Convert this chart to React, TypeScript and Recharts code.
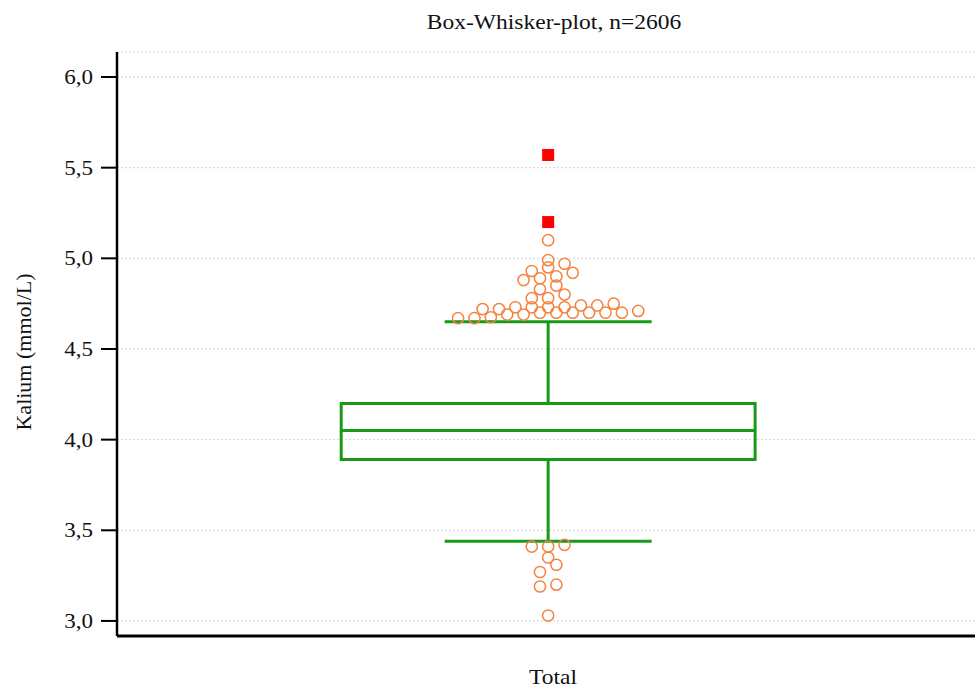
import { ComposedChart, Scatter, XAxis, YAxis, CartesianGrid, ReferenceArea, ReferenceLine } from "recharts"

const TITLE = "Box-Whisker-plot, n=2606"
const Y_LABEL = "Kalium (mmol/L)"
const CATEGORY = "Total"
const Y_TICKS = [3, 3.5, 4, 4.5, 5, 5.5, 6]

// box statistics (mmol/L)
const LOWER_WHISKER = 3.44
const Q1 = 3.89
const MEDIAN = 4.05
const Q3 = 4.2
const UPPER_WHISKER = 4.65

// outside values, with their swarm slot (left/right offset, in half-dot steps)
const OUTSIDE_VALUES = [
    5.1, 4.99, 4.95, 4.97, 4.92, 4.93, 4.88, 4.89, 4.9, 4.85, 4.83, 4.8, 4.78, 4.78,
    4.75, 4.74, 4.74, 4.73, 4.72, 4.72, 4.73, 4.73, 4.73, 4.71, 4.7, 4.7, 4.7, 4.7,
    4.7, 4.7, 4.69, 4.69, 4.675, 4.67, 4.67,
    3.41, 3.41, 3.42, 3.35, 3.31, 3.27, 3.19, 3.2, 3.03,
]
const OUTSIDE_SLOTS = [
    0, 0, 0, 2, 3, -2, -3, -1, 1, 1, -1, 2, -2, 0,
    8, 4, 6, -4, -6, -8, -2, 0, 2, 11, -1, 1, 3, 5,
    7, 9, -3, -5, -7, -9, -11,
    -2, 0, 2, 0, 1, -1, -1, 1, 0,
]
// far out values
const FAR_OUT_VALUES = [5.57, 5.2]

const GREEN = "#179a17"
const ORANGE = "#f5823f"
const FONT = "'Liberation Serif', 'Times New Roman', serif"

const SLOT = 0.019
const BOX_HALF = 0.48
const CAP_HALF = 0.24

const outsideData = OUTSIDE_VALUES.map((v, i) => ({ x: OUTSIDE_SLOTS[i] * SLOT, y: v }))
const farOutData = FAR_OUT_VALUES.map((v) => ({ x: 0, y: v }))

const YTick = ({ x, y, payload }: any) => (
    <text
        transform={`translate(${x},${y}) scale(1.15,1)`}
        textAnchor="end"
        dy="0.35em"
        fontSize={20}
        fontFamily={FONT}
        fill="#111"
    >
        {payload.value.toFixed(1).replace(".", ",")}
    </text>
)

const Dot = ({ cx, cy }: any) => (
    <circle cx={cx} cy={cy} r={5.6} fill="none" stroke={ORANGE} strokeWidth={1.5} />
)

const Square = ({ cx, cy }: any) => (
    <rect x={cx - 6} y={cy - 6} width={12} height={12} fill="#ff0000" />
)

export default function App() {
    return (
        <div style={{ position: "absolute", left: 0, top: 0, width: 975, height: 690, background: "#fff" }}>
            <ComposedChart width={975} height={690} margin={{ top: 52, right: 0, bottom: 0, left: 0 }}>
                <CartesianGrid vertical={false} stroke="#d2d2d2" strokeDasharray="2 2" />
                <XAxis
                    type="number"
                    dataKey="x"
                    domain={[-1, 0.99]}
                    height={54}
                    tick={false}
                    tickLine={false}
                    axisLine={{ stroke: "#000", strokeWidth: 3 }}
                />
                <YAxis
                    type="number"
                    dataKey="y"
                    domain={[2.917, 6.138]}
                    ticks={Y_TICKS}
                    width={117}
                    tickSize={16}
                    tickMargin={8}
                    tick={<YTick />}
                    tickLine={{ stroke: "#000", strokeWidth: 2 }}
                    axisLine={{ stroke: "#000", strokeWidth: 2.5 }}
                    allowDataOverflow
                />
                <ReferenceArea
                    x1={-BOX_HALF}
                    x2={BOX_HALF}
                    y1={Q1}
                    y2={Q3}
                    fill="none"
                    fillOpacity={0}
                    stroke={GREEN}
                    strokeWidth={3}
                    strokeOpacity={1}
                />
                <ReferenceLine segment={[{ x: -BOX_HALF, y: MEDIAN }, { x: BOX_HALF, y: MEDIAN }]} stroke={GREEN} strokeWidth={3} />
                <ReferenceLine segment={[{ x: 0, y: Q3 }, { x: 0, y: UPPER_WHISKER }]} stroke={GREEN} strokeWidth={3} />
                <ReferenceLine segment={[{ x: 0, y: Q1 }, { x: 0, y: LOWER_WHISKER }]} stroke={GREEN} strokeWidth={3} />
                <ReferenceLine segment={[{ x: -CAP_HALF, y: UPPER_WHISKER }, { x: CAP_HALF, y: UPPER_WHISKER }]} stroke={GREEN} strokeWidth={3} />
                <ReferenceLine segment={[{ x: -CAP_HALF, y: LOWER_WHISKER }, { x: CAP_HALF, y: LOWER_WHISKER }]} stroke={GREEN} strokeWidth={3} />
                <Scatter data={outsideData} shape={<Dot />} isAnimationActive={false} />
                <Scatter data={farOutData} shape={<Square />} isAnimationActive={false} />
            </ComposedChart>
            <svg width={975} height={690} style={{ position: "absolute", left: 0, top: 0, pointerEvents: "none" }}>
                <text transform="translate(554,29) scale(1.12,1)" textAnchor="middle" fontSize={21} fontFamily={FONT} fill="#111">
                    {TITLE}
                </text>
                <text transform="translate(31,352) rotate(-90)" textAnchor="middle" fontSize={22} fontFamily={FONT} fill="#111">
                    {Y_LABEL}
                </text>
                <text transform="translate(553,684) scale(1.12,1)" textAnchor="middle" fontSize={21} fontFamily={FONT} fill="#111">
                    {CATEGORY}
                </text>
            </svg>
        </div>
    )
}
